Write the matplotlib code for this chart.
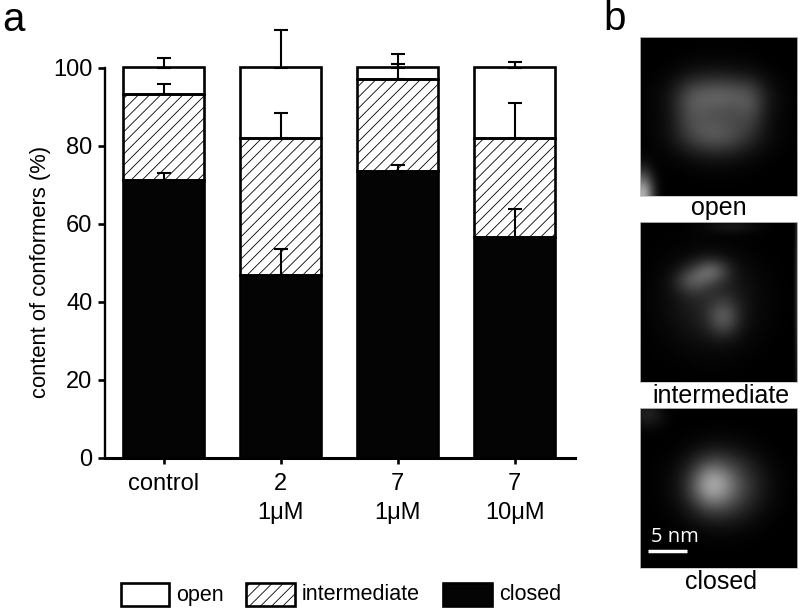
import numpy as np
from matplotlib import pyplot as plt
from matplotlib.patches import Rectangle

plt.rcParams['font.family'] = ['Liberation Sans', 'DejaVu Sans']
plt.rcParams['hatch.linewidth'] = 0.6

W, H = 800, 611

groups = ['control', '2\n1\u03bcM', '7\n1\u03bcM', '7\n10\u03bcM']
closed = [71.3, 46.8, 73.5, 56.7]
intermediate_top = [93.3, 82.0, 97.1, 82.0]
open_top = [100, 100, 100, 100]
closed_err = [1.8, 6.6, 1.6, 7.0]
intermediate_err = [2.6, 6.4, 3.7, 8.8]
open_err = [2.5, 9.5, 3.5, 1.5]

yticks = [0, 20, 40, 60, 80, 100]

# blobs for the micrographs: x, y (0-1 in the panel), sigma x, sigma y, brightness
open_blobs = [(0.51, 0.36, 0.17, 0.085, 0.22), (0.32, 0.45, 0.08, 0.12, 0.12),
              (0.70, 0.44, 0.07, 0.11, 0.12), (0.48, 0.62, 0.16, 0.09, 0.20),
              (0.50, 0.48, 0.19, 0.17, 0.17), (0.01, 1.0, 0.05, 0.10, 0.68)]
intermediate_blobs = [(0.33, 0.37, 0.08, 0.06, 0.20), (0.45, 0.31, 0.08, 0.055, 0.26),
                      (0.53, 0.60, 0.07, 0.08, 0.22), (0.45, 0.50, 0.19, 0.19, 0.14),
                      (0.58, 0.03, 0.12, 0.03, 0.08), (1.0, 0.4, 0.012, 0.5, 0.20)]
closed_blobs = [(0.45, 0.48, 0.09, 0.10, 0.30), (0.52, 0.49, 0.16, 0.14, 0.36),
                (0.05, 0.04, 0.07, 0.06, 0.12)]


def panel(blobs):
    yy, xx = np.mgrid[0:1:160j, 0:1:160j]
    img = np.zeros_like(xx)
    for x0, y0, sx, sy, amp in blobs:
        img += amp * np.exp(-(xx - x0) ** 2 / (2 * sx ** 2) - (yy - y0) ** 2 / (2 * sy ** 2))
    return np.clip(img, 0, 1)


def px_axes(x0, y0, x1, y1):
    return fig.add_axes([x0 / W, 1 - y1 / H, (x1 - x0) / W, (y1 - y0) / H])


fig = plt.figure(figsize=(W / 100, H / 100), dpi=100)

ax = px_axes(105, 67.5, 575, 458)
ax.set_xlim(105, 575)
ax.set_ylim(0, 100)
x = np.array([163.7, 280.7, 397.7, 514.7])
bw = 81

ecfg = dict(fmt='none', ecolor='k', elinewidth=1.5, capsize=5, capthick=1.5, clip_on=False, zorder=1)
ax.errorbar(x, open_top, yerr=[np.zeros(4), open_err], **ecfg)
ax.errorbar(x, intermediate_top, yerr=[np.zeros(4), intermediate_err], **ecfg)
ax.errorbar(x, closed, yerr=[np.zeros(4), closed_err], **ecfg)

lower = np.array(intermediate_top)
barcfg = dict(edgecolor='k', linewidth=1.9, zorder=3, clip_on=False)
ax.bar(x, np.array(open_top) - lower, bw, bottom=lower, facecolor='none', **barcfg)
ax.bar(x, lower - np.array(closed), bw, bottom=closed, facecolor='none', hatch='///', **barcfg)
ax.bar(x, closed, bw, facecolor='#040404', **barcfg)

for s in ['top', 'right']:
    ax.spines[s].set_visible(False)
ax.spines['left'].set_linewidth(1.7)
ax.spines['bottom'].set_linewidth(2.2)
ax.spines['left'].set_bounds(0, 100)
ax.set_xticks(x)
ax.set_xticklabels(groups, fontsize=17, linespacing=1.42)
ax.set_yticks(yticks)
ax.tick_params(axis='y', labelsize=17, width=1.9, length=5, pad=4)
ax.tick_params(axis='x', width=1.9, length=4, pad=7)
ax.set_ylabel('content of conformers (%)', fontsize=15.8)
ax.yaxis.set_label_coords((51 - 105) / 470, (458 - 272) / 390.5)

fig.text(2 / W, 1 - 31 / H, 'a', fontsize=29)
fig.text(603 / W, 1 - 30 / H, 'b', fontsize=29)

# legend drawn by hand in figure pixels
key = fig.add_axes([0, 0, 1, 1], facecolor='none')
key.set_zorder(5)
key.set_xlim(0, W)
key.set_ylim(H, 0)
key.axis('off')
entries = [('open', 121, 169, 'white', None, 176), ('intermediate', 246, 295, 'white', '///', 302),
           ('closed', 443, 492, '#040404', None, 499)]
for label, x0, x1, fc, hatch, tx in entries:
    key.add_patch(Rectangle((x0, 583), x1 - x0, 23, facecolor=fc, edgecolor='k', linewidth=1.9, hatch=hatch))
    key.text(tx, 595, label, fontsize=15.5, va='center')

titles = [('open', 37, 196, 719, 208, open_blobs), ('intermediate', 222, 382, 721, 396, intermediate_blobs),
          ('closed', 408, 568, 721, 582, closed_blobs)]
for label, y0, y1, tx, ty, blobs in titles:
    a = px_axes(640, y0, 797, y1)
    a.imshow(panel(blobs), cmap='gray', vmin=0, vmax=1, aspect='auto', extent=[0, 1, 1, 0])
    a.set_xticks([])
    a.set_yticks([])
    for s in a.spines.values():
        s.set_color('#c4c4c4')
        s.set_linewidth(0.6)
    fig.text(tx / W, 1 - ty / H, label, fontsize=18, ha='center', va='center')

key.plot([648, 687], [551, 551], color='white', linewidth=2.5, solid_capstyle='butt')
key.text(675, 537, '5 nm', color='white', fontsize=14.5, ha='center', va='center', family=['Open Sans', 'DejaVu Sans'])

fig.savefig('out.png', dpi=100)
